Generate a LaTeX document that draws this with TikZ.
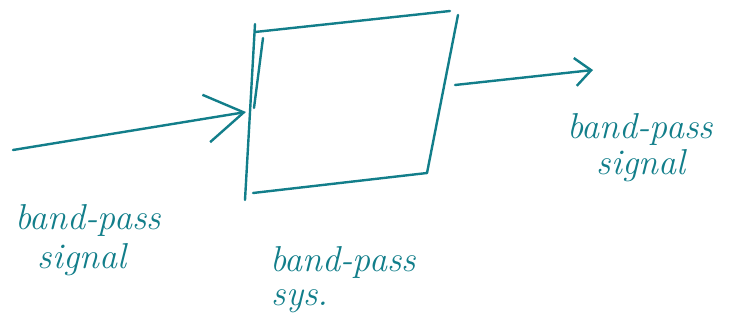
\documentclass[tikz,border=0pt]{standalone}
\usetikzlibrary{arrows.meta}
\definecolor{penink}{RGB}{18,126,138}
\tikzset{
  stroke/.style={penink, line width=2.4pt, line cap=round, line join=round},
  label/.style={penink, inner sep=0pt, font=\fontsize{36}{38}\selectfont\itshape},
}
\begin{document}
\begin{tikzpicture}[x=1pt, y=-1pt]
  \useasboundingbox (0,0) rectangle (729,323);
  % Corners of the system box
  \coordinate (tl) at (255,32);
  \coordinate (tr) at (450,11);
  \coordinate (rt) at (458,15);
  \coordinate (rb) at (427,173);
  \coordinate (bl) at (253,193);
  \coordinate (lt) at (255,24);
  \coordinate (lb) at (245,200);

  % The box, drawn edge by edge
  \draw[stroke] (tl) -- (tr);
  \draw[stroke] (rt) -- (rb);
  \draw[stroke] (bl) -- (rb);
  \draw[stroke] (lt) -- (lb);
  \draw[stroke] (263,38) -- (254,108);

  % Input and output signals
  \coordinate (sigin) at (13,150);
  \coordinate (boxin) at (246,112);
  \coordinate (boxout) at (455,85);
  \coordinate (sigout) at (593,70);
  \draw[stroke, -{Straight Barb[length=38pt, width=48pt, line width=2.4pt]}] (sigin) -- (boxin);
  \draw[stroke, -{Straight Barb[length=16pt, width=28pt, line width=2.4pt]}] (boxout) -- (sigout);

  % Labels
  \node[label] (inband) at (88,221) {band-pass};
  \node[label] (insig) at (82,260) {signal};
  \node[label] (sysband) at (343,263) {band-pass};
  \node[label] (syssys) at (300,301) {sys.};
  \node[label] (outband) at (640,130) {band-pass};
  \node[label] (outsig) at (641,166) {signal};
\end{tikzpicture}
\end{document}
